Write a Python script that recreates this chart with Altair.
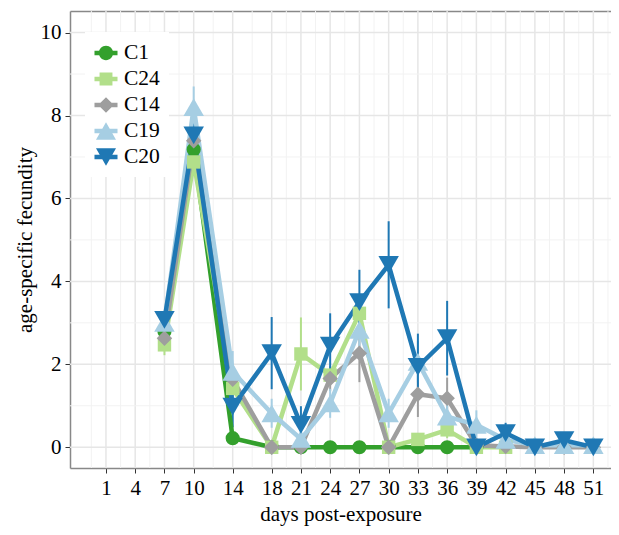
import altair as alt
import pandas as pd

# ---- data ----
days = [7, 10, 14, 18, 21, 24, 27, 30, 33, 36, 39, 42, 45, 48, 51]
series_names = ["C1", "C24", "C14", "C19", "C20"]
series_colors = ["#33a02c", "#b2df8a", "#9e9e9e", "#a6cee3", "#1f78b4"]
series_shapes = ["circle", "square", "diamond", "triangle-up", "triangle-down"]
series_sizes = [200, 180, 240, 420, 420]

# legend keys: a line with the marker on it (unit square -1..1)
BAR = "M-1,-0.2 L1,-0.2 L1,0.2 L-1,0.2 Z "
key_shapes = [
    BAR + "M-0.62,0 A0.62,0.62 0 1,1 0.62,0 A0.62,0.62 0 1,1 -0.62,0 Z",
    BAR + "M-0.56,-0.56 L0.56,-0.56 L0.56,0.56 L-0.56,0.56 Z",
    BAR + "M0,-0.68 L0.68,0 L0,0.68 L-0.68,0 Z",
    BAR + "M0,-0.75 L0.87,0.75 L-0.87,0.75 Z",
    BAR + "M-0.87,-0.75 L0.87,-0.75 L0,0.75 Z",
]

c1_mean = [2.79, 7.18, 0.22, 0, 0, 0, 0, 0, 0, 0, 0]
c1_se = [0.1, 0.25, 0.05, 0, 0, 0, 0, 0, 0, 0, 0]
c24_mean = [2.47, 6.88, 1.42, 0, 2.25, 1.74, 3.23, 0, 0.19, 0.42, 0, 0]
c24_se = [0.25, 0.3, 0.3, 0, 0.88, 0.2, 0.3, 0, 0.1, 0.2, 0, 0]
c14_mean = [2.63, 7.39, 1.64, 0, 0, 1.66, 2.27, 0, 1.28, 1.18, 0.05, 0.02, 0, 0, 0]
c14_se = [0.1, 0.2, 0.2, 0, 0, 0.3, 0.7, 0, 0.55, 0.5, 0.05, 0, 0, 0, 0]
c19_mean = [3.0, 8.2, 1.82, 0.82, 0.2, 1.06, 2.83, 0.82, 2.06, 0.74, 0.54, 0.18, 0.05, 0.05, 0.05]
c19_se = [0.2, 0.5, 0.5, 0.35, 0.3, 0.35, 0.4, 0.35, 0.5, 0.3, 0.35, 0.1, 0.05, 0.05, 0.05]
c20_mean = [3.07, 7.52, 0.98, 2.27, 0.54, 2.45, 3.5, 4.4, 1.94, 2.63, 0.0, 0.34, 0.0, 0.17, 0.0]
c20_se = [0.2, 0.35, 0.5, 0.87, 0.45, 0.78, 0.78, 1.05, 0.8, 0.9, 0, 0.25, 0, 0.1, 0]

x_ticks = [1, 4, 7, 10, 14, 18, 21, 24, 27, 30, 33, 36, 39, 42, 45, 48, 51]
x_minor = [-0.5, 2.5, 5.5, 8.5, 12, 16, 19.5, 22.5, 25.5, 28.5, 31.5, 34.5, 37.5, 40.5, 43.5, 46.5, 49.5, 52.5]
y_ticks = [0, 2, 4, 6, 8, 10]
y_minor = [1, 3, 5, 7, 9]

means = [c1_mean, c24_mean, c14_mean, c19_mean, c20_mean]
ses = [c1_se, c24_se, c14_se, c19_se, c20_se]

rows = []
for name, m, s in zip(series_names, means, ses):
    for d, v, e in zip(days, m, s):
        rows.append({"series": name, "key": name, "day": d, "mean": v, "lo": v - e, "hi": v + e})
df = pd.DataFrame(rows)

FONT = "Liberation Serif"
FS = 21
BORDER = "#888888"
xscale = alt.Scale(domain=[-2.69, 52.81], nice=False, zero=False)
yscale = alt.Scale(domain=[-0.5, 10.52], nice=False, zero=False)

xaxis = alt.Axis(values=x_ticks, title="days post-exposure", grid=False,
                 domain=True, domainColor=BORDER, domainWidth=1.5,
                 tickSize=5, tickColor="#333333", tickWidth=1,
                 labelFont=FONT, labelFontSize=FS, labelColor="#000000", labelPadding=4,
                 labelOverlap=False, labelFlush=False,
                 titleFont=FONT, titleFontSize=FS, titleFontWeight="normal", titleColor="#000000",
                 titlePadding=5)
xaxis_top = alt.Axis(orient="top", title=None, grid=False, labels=False, ticks=False,
                     domain=True, domainColor=BORDER, domainWidth=1.5)
yaxis = alt.Axis(values=y_ticks, title="age-specific fecundity", grid=False,
                 domain=True, domainColor=BORDER, domainWidth=1.5,
                 tickSize=5, tickColor="#333333", tickWidth=1,
                 labelFont=FONT, labelFontSize=FS, labelColor="#000000", labelPadding=4,
                 titleFont=FONT, titleFontSize=FS, titleFontWeight="normal", titleColor="#000000",
                 titlePadding=5)

color = alt.Color("series:N", scale=alt.Scale(domain=series_names, range=series_colors), legend=None)
shape = alt.Shape("series:N", scale=alt.Scale(domain=series_names, range=series_shapes), legend=None)
size = alt.Size("series:N", scale=alt.Scale(type="ordinal", domain=series_names, range=series_sizes), legend=None)

legend = alt.Legend(title=None, orient="none", legendX=15, legendY=21,
                    fillColor="#ffffff", padding=9,
                    labelFont=FONT, labelFontSize=21.5, labelColor="#000000", labelOffset=6,
                    rowPadding=3, symbolSize=530, symbolStrokeWidth=0, symbolOpacity=1)

grid_x_minor = alt.Chart(pd.DataFrame({"v": x_minor})).mark_rule(color="#f2f2f2", strokeWidth=1).encode(
    x=alt.X("v:Q", scale=xscale, axis=xaxis))
grid_x_major = alt.Chart(pd.DataFrame({"v": x_ticks})).mark_rule(color="#e6e6e6", strokeWidth=1.5).encode(
    x=alt.X("v:Q", scale=xscale, axis=xaxis_top))
grid_y_minor = alt.Chart(pd.DataFrame({"v": y_minor})).mark_rule(color="#f2f2f2", strokeWidth=1).encode(
    y=alt.Y("v:Q", scale=yscale, axis=yaxis))
grid_y_major = alt.Chart(pd.DataFrame({"v": y_ticks})).mark_rule(color="#e6e6e6", strokeWidth=1.5).encode(
    y=alt.Y("v:Q", scale=yscale, axis=yaxis))

base = alt.Chart(df)
errs = base.mark_rule(strokeWidth=2).encode(
    x=alt.X("day:Q", scale=xscale, axis=None),
    y=alt.Y("lo:Q", scale=yscale, axis=yaxis),
    y2="hi:Q",
    color=color,
)
lines = base.mark_line(strokeWidth=4.5).encode(
    x=alt.X("day:Q", scale=xscale, axis=None),
    y=alt.Y("mean:Q", scale=yscale, axis=yaxis),
    color=color,
    detail="series:N",
)
points = base.mark_point(filled=True, opacity=1).encode(
    x=alt.X("day:Q", scale=xscale, axis=None),
    y=alt.Y("mean:Q", scale=yscale, axis=yaxis),
    color=color,
    shape=shape,
    size=size,
)
# legend-only layer (draws nothing, supplies the legend with line+marker keys)
legend_layer = base.transform_filter("false").mark_point(filled=True, opacity=1).encode(
    x=alt.X("day:Q", scale=xscale, axis=None),
    y=alt.Y("mean:Q", scale=yscale, axis=yaxis),
    color=alt.Color("key:N", scale=alt.Scale(domain=series_names, range=series_colors), legend=legend),
    shape=alt.Shape("key:N", scale=alt.Scale(domain=series_names, range=key_shapes), legend=legend),
)

chart = alt.layer(grid_x_minor, grid_x_major, grid_y_minor, grid_y_major, errs, lines, points,
                  legend_layer).resolve_scale(
    color="independent", shape="independent", size="independent"
).resolve_axis(x="independent").properties(
    width=541, height=457,
    padding={"left": 62, "top": 3, "right": 0, "bottom": 59},
    autosize=alt.AutoSizeParams(type="none"),
).configure_view(
    stroke=None
).configure_legend(
    labelFont=FONT, labelFontSize=21.5, labelColor="#000000",
)

chart.save("out.html", embed_options={"renderer": "svg", "actions": False})
